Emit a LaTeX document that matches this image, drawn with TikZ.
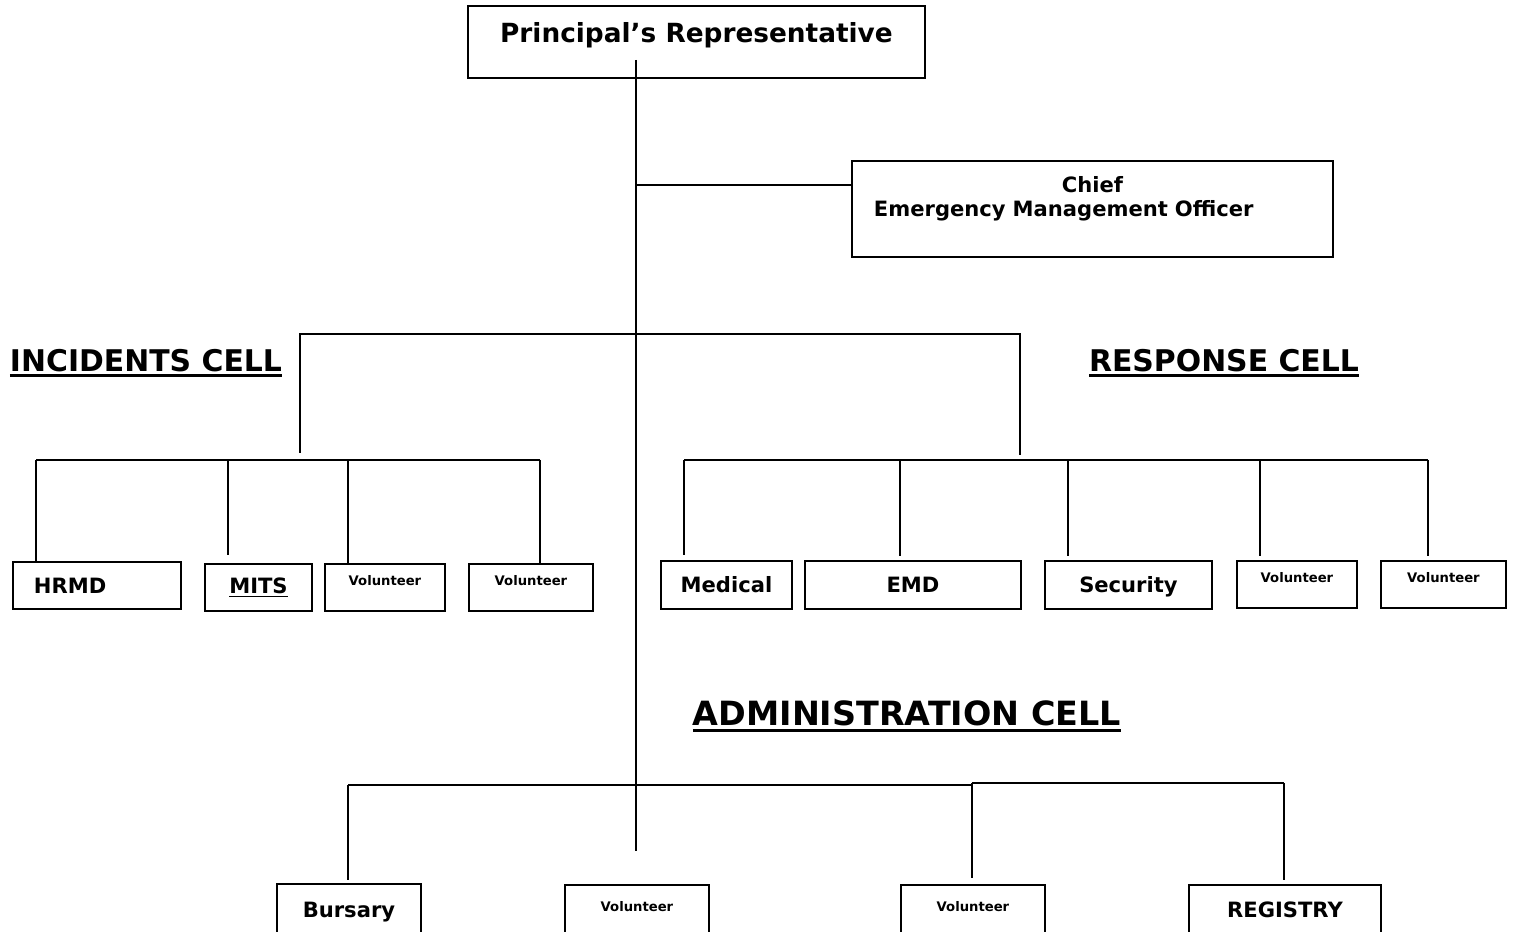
\documentclass[tikz,border=0pt]{standalone}
\usepackage{fontspec}
\setmainfont{DejaVu Sans}
\usetikzlibrary{positioning}

\newsavebox{\ulbox}
\newcommand{\ulined}[1]{\sbox{\ulbox}{#1}\leavevmode\rlap{\usebox{\ulbox}}\rule[-0.2em]{\wd\ulbox}{0.09em}}

\def\px{0.02cm}

\tikzset{
  unit/.style={draw, line width=1.1pt, inner sep=0pt, anchor=north west,
    font=\bfseries\fontsize{12}{14.2}\selectfont},
  vol/.style={font=\bfseries\fontsize{7.5}{9}\selectfont, text depth=7.4pt},
  link/.style={line width=1.1pt},
  cell/.style={inner sep=0pt, font=\bfseries\fontsize{17}{20}\selectfont}
}

\begin{document}
\begin{tikzpicture}[x=\px, y=-\px]

\path [use as bounding box] (0,0) rectangle (1515,932);

% TOP
\node[unit, minimum width=457*\px, minimum height=72*\px, text depth=11pt,
  font=\bfseries\fontsize{15}{18}\selectfont] (rep) at (467,5) {Principal’s Representative};
\node[unit, minimum width=481*\px, minimum height=96*\px, inner xsep=22*\px,
  text width=437*\px, align=left] (chief) at (851,160)
  {\hfill Chief\hfill\null\\Emergency Management Officer\\\mbox{}};

% INCIDENTS CELL
\node[unit, minimum width=168*\px, minimum height=47*\px, inner xsep=21*\px,
  text width=126*\px, align=left] (hrmd) at (12,561) {HRMD};
\node[unit, minimum width=107*\px, minimum height=47*\px] (mits) at (204,563) {\ulined{MITS}};
\node[unit, vol, minimum width=120*\px, minimum height=47*\px] (vol-a) at (324,563) {Volunteer};
\node[unit, vol, minimum width=124*\px, minimum height=47*\px] (vol-b) at (468,563) {Volunteer};

% RESPONSE CELL
\node[unit, minimum width=131*\px, minimum height=48*\px] (med) at (660,560) {Medical};
\node[unit, minimum width=216*\px, minimum height=48*\px] (emd) at (804,560) {EMD};
\node[unit, minimum width=167*\px, minimum height=48*\px, text height=11pt] (sec) at (1044,560) {Security};
\node[unit, vol, minimum width=120*\px, minimum height=47*\px] (vol-c) at (1236,560) {Volunteer};
\node[unit, vol, minimum width=125*\px, minimum height=47*\px] (vol-d) at (1380,560) {Volunteer};

% ADMINISTRATION CELL
\node[unit, minimum width=144*\px, minimum height=56*\px] (burs) at (276,883) {Bursary};
\node[unit, vol, minimum width=144*\px, minimum height=56*\px] (vol-e) at (564,884) {Volunteer};
\node[unit, vol, minimum width=144*\px, minimum height=56*\px] (vol-f) at (900,884) {Volunteer};
\node[unit, minimum width=192*\px, minimum height=56*\px, text depth=4pt] (reg) at (1188,884) {REGISTRY};

% CELL TITLES
\node[cell] (inc-title) at (146,363) {\ulined{INCIDENTS CELL}};
\node[cell] (resp-title) at (1224,363) {\ulined{RESPONSE CELL}};
\node[cell, font=\bfseries\fontsize{19}{22}\selectfont] (adm-title) at (907,716) {\ulined{ADMINISTRATION CELL}};

% JUNCTIONS
\coordinate (trunk-top) at (636,60);
\coordinate (trunk-end) at (636,851);
\coordinate (j-chief) at (636,185);
\coordinate (top-l) at (300,334);
\coordinate (top-r) at (1020,334);
\coordinate (top-l-end) at (300,453);
\coordinate (top-r-end) at (1020,455);
\coordinate (inc-1) at (36,460);
\coordinate (inc-2) at (228,460);
\coordinate (inc-3) at (348,460);
\coordinate (inc-4) at (540,460);
\coordinate (resp-1) at (684,460);
\coordinate (resp-2) at (900,460);
\coordinate (resp-3) at (1068,460);
\coordinate (resp-4) at (1260,460);
\coordinate (resp-5) at (1428,460);
\coordinate (adm-1) at (348,785);
\coordinate (adm-2) at (972,785);
\coordinate (adm-3) at (972,783);
\coordinate (adm-4) at (1284,783);

% LINKS
\draw[link] (trunk-top) -- (trunk-end);
\draw[link] (j-chief) -- (j-chief -| chief.west);
\draw[link] (top-l-end) -- (top-l) -- (top-r) -- (top-r-end);
\draw[link] (inc-1) -- (inc-4);
\draw[link] (resp-1) -- (resp-5);
\draw[link] (adm-1) -- (adm-2);
\draw[link] (adm-3) -- (adm-4);
\draw[link] (inc-1) -- (inc-1 |- hrmd.north);
\draw[link, shorten >=8*\px] (inc-2) -- (inc-2 |- mits.north);
\draw[link] (inc-3) -- (inc-3 |- vol-a.north);
\draw[link] (inc-4) -- (inc-4 |- vol-b.north);
\draw[link, shorten >=5*\px] (resp-1) -- (resp-1 |- med.north);
\draw[link, shorten >=4*\px] (resp-2) -- (resp-2 |- emd.north);
\draw[link, shorten >=4*\px] (resp-3) -- (resp-3 |- sec.north);
\draw[link, shorten >=4*\px] (resp-4) -- (resp-4 |- vol-c.north);
\draw[link, shorten >=4*\px] (resp-5) -- (resp-5 |- vol-d.north);
\draw[link, shorten >=3*\px] (adm-1) -- (adm-1 |- burs.north);
\draw[link, shorten >=6*\px] (adm-3) -- (adm-3 |- vol-f.north);
\draw[link, shorten >=4*\px] (adm-4) -- (adm-4 |- reg.north);

\end{tikzpicture}
\end{document}
